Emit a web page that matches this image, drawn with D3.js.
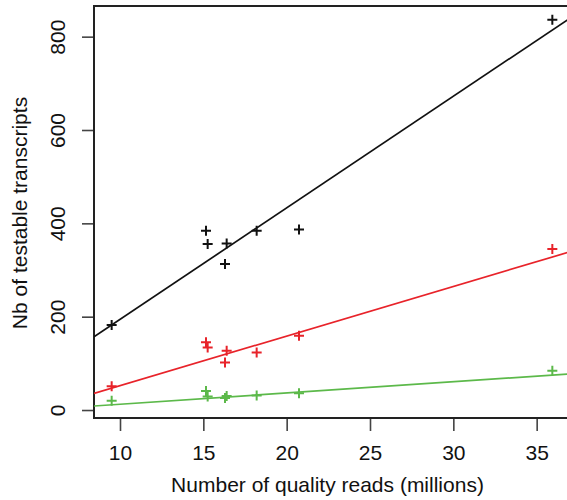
<!DOCTYPE html>
<html>
<head>
<meta charset="utf-8">
<script src="https://cdn.jsdelivr.net/npm/d3@7"></script>
<style>
  body { margin: 0; background: #fff; }
  text { font-family: "Liberation Sans", Arial, sans-serif; fill: #111; }
</style>
</head>
<body>
<div id="chart"></div>
<script>
// data
var reads = [9.5, 15.16, 15.26, 16.3, 16.4, 18.2, 20.74, 35.94];
var totalCounts = [182, 384, 356, 313, 357, 384, 387, 836];
var redCounts = [51, 145, 134, 102, 127, 123, 159, 345];
var greenCounts = [20, 41, 29, 26, 30, 31, 36, 84];
var seriesNames = ['black', 'red', 'green'];
var seriesColors = ['#111111', '#e8232a', '#5cb94a'];
// fitted lines: intercept, slope
var fitIntercepts = [-44.7, -53.9, -11.7];
var fitSlopes = [23.9, 10.62, 2.41];
var xTicks = [10, 15, 20, 25, 30, 35];
var yTicks = [0, 200, 400, 600, 800];
var xLimits = [8.44, 37.06];
var yLimits = [-17.1, 865.7];

var width = 567, height = 500;
var plotLeft = 94, plotTop = 6, plotRight = 571, plotBottom = 418;

var svg = d3.select('#chart').append('svg')
  .attr('width', width)
  .attr('height', height);

var x = d3.scaleLinear().domain(xLimits).range([plotLeft, plotRight]);
var y = d3.scaleLinear().domain(yLimits).range([plotBottom, plotTop]);

svg.append('clipPath').attr('id', 'plotclip')
  .append('rect')
  .attr('x', plotLeft).attr('y', plotTop)
  .attr('width', plotRight - plotLeft).attr('height', plotBottom - plotTop);

// axes, R style
var xAxis = svg.append('g')
  .attr('transform', 'translate(0,' + plotBottom + ')')
  .call(d3.axisBottom(x).tickValues(xTicks).tickSize(13).tickPadding(14));
xAxis.select('.domain').attr('d', 'M' + x(xTicks[0]) + ',0H' + x(xTicks[xTicks.length - 1]));

var yAxis = svg.append('g')
  .attr('transform', 'translate(' + plotLeft + ',0)')
  .call(d3.axisLeft(y).tickValues(yTicks).tickSize(12));
yAxis.select('.domain').attr('d', 'M0,' + y(yTicks[0]) + 'V' + y(yTicks[yTicks.length - 1]));

svg.selectAll('.tick line').attr('stroke', '#444').attr('stroke-width', 1.6);
svg.selectAll('.domain').attr('stroke', '#444').attr('stroke-width', 1.6);
xAxis.selectAll('text').attr('font-size', 21).attr('dy', '0.71em');
yAxis.selectAll('text')
  .attr('font-size', 21)
  .attr('x', null).attr('dy', null)
  .attr('text-anchor', 'middle')
  .attr('transform', 'translate(' + (65 - plotLeft) + ',0) rotate(-90)');

// box
svg.append('rect')
  .attr('x', plotLeft).attr('y', plotTop)
  .attr('width', plotRight - plotLeft).attr('height', plotBottom - plotTop)
  .attr('fill', 'none')
  .attr('stroke', '#222')
  .attr('stroke-width', 2);

var plot = svg.append('g').attr('clip-path', 'url(#plotclip)');

var allCounts = [totalCounts, redCounts, greenCounts];

// regression lines
var line = d3.line().x(function (d) { return x(d[0]); }).y(function (d) { return y(d[1]); });
seriesNames.forEach(function (s, i) {
  var pts = xLimits.map(function (v) { return [v, fitIntercepts[i] + fitSlopes[i] * v]; });
  plot.append('path')
    .attr('d', line(pts))
    .attr('fill', 'none')
    .attr('stroke', seriesColors[i])
    .attr('stroke-width', 1.7);
});

// points (pch = 3)
seriesNames.forEach(function (s, i) {
  plot.selectAll('.pt-' + s)
    .data(allCounts[i])
    .enter()
    .append('path')
    .attr('class', 'pt-' + s)
    .attr('d', function (d, j) {
      var cx = x(reads[j]), cy = y(d), r = 5;
      return 'M' + (cx - r) + ',' + cy + 'H' + (cx + r) + 'M' + cx + ',' + (cy - r) + 'V' + (cy + r);
    })
    .attr('stroke', seriesColors[i])
    .attr('stroke-width', 2)
    .attr('fill', 'none');
});

// axis titles
svg.append('text')
  .attr('x', (plotLeft + plotRight) / 2 - 5)
  .attr('y', 492)
  .attr('text-anchor', 'middle')
  .attr('font-size', 21)
  .text('Number of quality reads (millions)');

svg.append('text')
  .attr('transform', 'translate(27,213) rotate(-90)')
  .attr('text-anchor', 'middle')
  .attr('font-size', 21)
  .text('Nb of testable transcripts');
</script>
</body>
</html>
